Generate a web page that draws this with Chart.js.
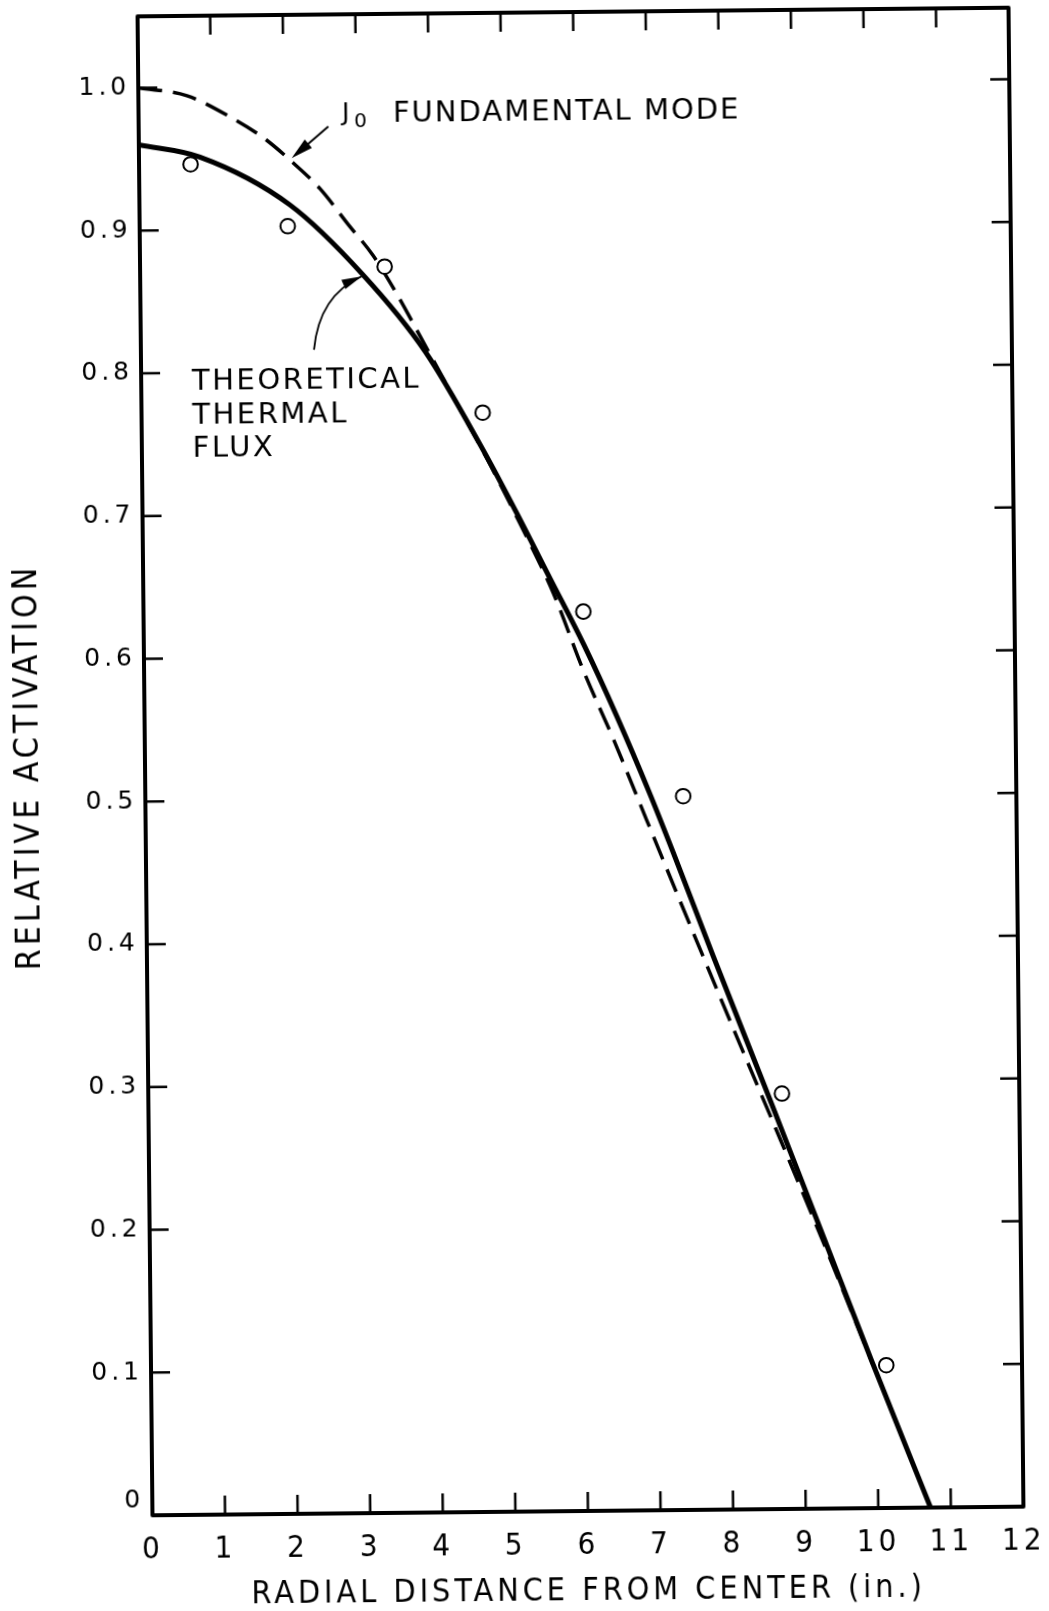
<!DOCTYPE html>
<html>
<head>
<meta charset="utf-8">
<title>Relative activation vs radial distance</title>
<script src="https://cdn.jsdelivr.net/npm/chart.js@4.4.1/dist/chart.umd.min.js"></script>
<style>
  html, body { margin: 0; padding: 0; background: #fff; overflow: hidden; }
  /* the plate sits a touch off square on the page */
  #sheet { width: 1049px; height: 1611px; transform: rotate(-0.57deg); transform-origin: 580.5px 761.75px; }
  canvas { display: block; }
</style>
</head>
<body>
<div id="sheet"><canvas id="activationChart" width="1049" height="1611"></canvas></div>
<script>
// foil activations measured across the radius
const measuredX = [0.71, 2.04, 3.37, 4.70, 6.06, 7.41, 8.73, 10.13];
const measuredY = [0.946, 0.902, 0.873, 0.770, 0.630, 0.500, 0.291, 0.100];

// theoretical thermal flux (solid)
const solidX = [0, 0.84, 2.07, 3.06, 3.92, 4.70, 5.16, 5.61, 6.06, 6.51, 6.95, 7.27, 7.80, 8.60, 9.30, 9.93, 10.72];
const solidY = [0.960, 0.951, 0.917, 0.868, 0.813, 0.744, 0.699, 0.653, 0.607, 0.556, 0.502, 0.460, 0.388, 0.282, 0.188, 0.103, 0];

// J0 fundamental mode (dashed)
const dashedX = [0, 0.67, 1.26, 1.72, 2.13, 2.49, 2.87, 3.21, 3.52, 3.86, 4.30, 4.80, 5.20, 5.65, 6.05, 6.46, 6.90, 7.50, 8.10, 8.70, 9.30, 9.95];
const dashedY = [1.000, 0.994, 0.979, 0.964, 0.946, 0.928, 0.903, 0.881, 0.855, 0.823, 0.781, 0.733, 0.692, 0.643, 0.589, 0.540, 0.484, 0.408, 0.333, 0.259, 0.184, 0.100];

const xTickValues = [0, 1, 2, 3, 4, 5, 6, 7, 8, 9, 10, 11, 12];
const xTickLabels = ['0', '1', '2', '3', '4', '5', '6', '7', '8', '9', '10', '11', '12'];
const yTickValues = [0, 0.1, 0.2, 0.3, 0.4, 0.5, 0.6, 0.7, 0.8, 0.9, 1.0];
const yTickLabels = ['0', '0.1', '0.2', '0.3', '0.4', '0.5', '0.6', '0.7', '0.8', '0.9', '1.0'];

// callouts, placed in data units
const fluxNote = { lines: ['THEORETICAL', 'THERMAL', 'FLUX'], at: [0.70, 0.788], lineGap: 33.5 };
const modeNote = { at: [2.761, 0.9755] };
const modeArrow = [[2.613, 0.9716], [2.104, 0.9497]];
const fluxArrow = [[2.385, 0.8153], [2.462, 0.8533], [3.052, 0.8663]];

const TICK_LEN = 19;

const pairs = (xs, ys) => xs.map((v, i) => ({ x: v, y: ys[i] }));

function spacing(ctx, px) {
    if ('letterSpacing' in ctx) ctx.letterSpacing = px + 'px';
}

function arrowHead(ctx, tip, from, len, half) {
    const ang = Math.atan2(tip[1] - from[1], tip[0] - from[0]);
    const bx = tip[0] - len * Math.cos(ang), by = tip[1] - len * Math.sin(ang);
    ctx.beginPath();
    ctx.moveTo(tip[0], tip[1]);
    ctx.lineTo(bx + half * Math.sin(ang), by - half * Math.cos(ang));
    ctx.lineTo(bx - half * Math.sin(ang), by + half * Math.cos(ang));
    ctx.closePath();
    ctx.fill();
}

// axis titles and y labels are lettered wide; x tick labels (z: 1, drawn after the datasets) are not
const letterSpacing = {
    id: 'letterSpacing',
    beforeDraw(chart) { spacing(chart.ctx, 4); },
    beforeDatasetsDraw(chart) { spacing(chart.ctx, 0); }
};

// box, inward ticks, labels and arrows
const boxAndNotes = {
    id: 'boxAndNotes',
    afterDraw(chart) {
        const { ctx, chartArea: area, scales: { x, y } } = chart;
        const toPx = ([vx, vy]) => [x.getPixelForValue(vx), y.getPixelForValue(vy)];
        ctx.save();
        ctx.strokeStyle = '#000';
        ctx.fillStyle = '#000';

        ctx.lineWidth = 4;
        ctx.lineJoin = 'round';
        ctx.strokeRect(area.left, area.top, area.right - area.left, area.bottom - area.top);

        ctx.lineWidth = 2.5;
        ctx.beginPath();
        xTickValues.forEach(v => {
            if (v <= x.min || v >= x.max) return;
            const px = x.getPixelForValue(v);
            ctx.moveTo(px, area.bottom); ctx.lineTo(px, area.bottom - TICK_LEN);
            ctx.moveTo(px, area.top); ctx.lineTo(px, area.top + TICK_LEN);
        });
        yTickValues.forEach(v => {
            if (v <= y.min) return;
            const py = y.getPixelForValue(v);
            ctx.moveTo(area.left, py); ctx.lineTo(area.left + TICK_LEN, py);
            ctx.moveTo(area.right, py); ctx.lineTo(area.right - TICK_LEN, py);
        });
        ctx.stroke();

        // THEORETICAL THERMAL FLUX
        ctx.textAlign = 'left';
        ctx.textBaseline = 'alphabetic';
        ctx.font = '29px "DejaVu Sans"';
        spacing(ctx, 2.5);
        const [fx, fy] = toPx(fluxNote.at);
        fluxNote.lines.forEach((t, i) => ctx.fillText(t, fx, fy + i * fluxNote.lineGap));

        // J0 FUNDAMENTAL MODE
        const [mx, my] = toPx(modeNote.at);
        spacing(ctx, 0);
        ctx.font = '25px "DejaVu Sans"';
        ctx.fillText('J', mx + 3, my);
        ctx.font = '20px "DejaVu Sans"';
        ctx.fillText('0', mx + 15, my + 7);
        ctx.font = '29px "DejaVu Sans"';
        spacing(ctx, 2);
        ctx.fillText('FUNDAMENTAL MODE', mx + 54, my + 2);
        spacing(ctx, 0);

        // straight arrow onto the dashed curve
        const [a0, a1] = modeArrow.map(toPx);
        const ang = Math.atan2(a1[1] - a0[1], a1[0] - a0[0]);
        ctx.lineWidth = 2;
        ctx.beginPath();
        ctx.moveTo(a0[0], a0[1]);
        ctx.lineTo(a1[0] - 12 * Math.cos(ang), a1[1] - 12 * Math.sin(ang));
        ctx.stroke();
        arrowHead(ctx, a1, a0, 22, 5.5);

        // curved arrow onto the solid curve
        const [b0, bc, b1] = fluxArrow.map(toPx);
        ctx.lineWidth = 1.8;
        ctx.beginPath();
        ctx.moveTo(b0[0], b0[1]);
        ctx.quadraticCurveTo(bc[0], bc[1], b1[0], b1[1]);
        ctx.stroke();
        arrowHead(ctx, b1, bc, 20, 5);

        ctx.restore();
    }
};

const narrowFamily = "'Liberation Sans Narrow', 'DejaVu Sans Condensed', sans-serif";

const activationCtx = document.getElementById('activationChart').getContext('2d');
const activationChart = new Chart(activationCtx, {
    type: 'scatter',
    data: {
        datasets: [
            {
                label: 'Measured',
                data: pairs(measuredX, measuredY),
                showLine: false,
                pointStyle: 'circle',
                pointRadius: 7.3,
                pointBorderWidth: 2,
                pointBackgroundColor: '#fff',
                pointBorderColor: '#000',
                order: 0
            },
            {
                label: 'Theoretical thermal flux',
                data: pairs(solidX, solidY),
                showLine: true,
                borderColor: '#000',
                borderWidth: 5,
                pointRadius: 0,
                cubicInterpolationMode: 'monotone',
                order: 1
            },
            {
                label: 'J0 fundamental mode',
                data: pairs(dashedX, dashedY),
                showLine: true,
                borderColor: '#000',
                borderWidth: 3.5,
                borderDash: [24, 11],
                pointRadius: 0,
                cubicInterpolationMode: 'monotone',
                order: 2
            }
        ]
    },
    options: {
        responsive: false,
        animation: false,
        devicePixelRatio: 1,
        events: [],
        layout: { padding: { top: 12, right: 33, bottom: 0, left: 0 } },
        plugins: {
            legend: { display: false },
            tooltip: { enabled: false }
        },
        scales: {
            x: {
                type: 'linear',
                min: 0,
                max: 12,
                z: 1,
                grid: { display: false },
                border: { display: false },
                afterBuildTicks: axis => { axis.ticks = xTickValues.map(v => ({ value: v })); },
                afterFit: axis => { axis.height = 100; axis.paddingLeft = 0; axis.paddingRight = 0; },
                ticks: {
                    autoSkip: false,
                    maxRotation: 0,
                    padding: 8,
                    color: '#000',
                    font: { family: narrowFamily, size: 31 },
                    callback: (v, i) => xTickLabels[i]
                },
                title: {
                    display: true,
                    text: 'RADIAL DISTANCE FROM CENTER (in.)',
                    color: '#000',
                    font: { family: narrowFamily, size: 32, lineHeight: 1.22 },
                    padding: { top: 0, bottom: 0 }
                }
            },
            y: {
                type: 'linear',
                min: 0,
                max: 1.05,
                grid: { display: false },
                border: { display: false },
                afterBuildTicks: axis => { axis.ticks = yTickValues.map(v => ({ value: v })); },
                afterFit: axis => { axis.width = 145; axis.paddingTop = 0; axis.paddingBottom = 0; },
                ticks: {
                    autoSkip: false,
                    padding: 0,
                    color: '#000',
                    font: { family: "'DejaVu Sans', sans-serif", size: 25 },
                    // the zero label sits up off the baseline
                    callback: (v, i) => i === 0 ? [yTickLabels[0], ''] : yTickLabels[i]
                },
                title: {
                    display: true,
                    text: 'RELATIVE ACTIVATION',
                    color: '#000',
                    font: { family: narrowFamily, size: 33.5, lineHeight: 1.15 },
                    padding: { top: 10, bottom: 0 }
                }
            }
        }
    },
    plugins: [letterSpacing, boxAndNotes]
});
</script>
</body>
</html>
